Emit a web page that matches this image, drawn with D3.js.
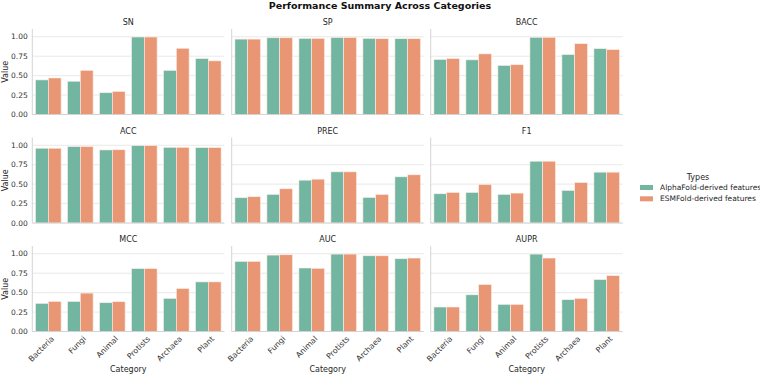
<!DOCTYPE html>
<html>
<head>
<meta charset="utf-8">
<script src="https://cdn.jsdelivr.net/npm/d3@7"></script>
<style>
  body { margin: 0; background: #fff; }
  text { font-family: "DejaVu Sans", sans-serif; }
</style>
</head>
<body>
<div id="chart"></div>
<script>
// data
var categories = ["Bacteria", "Fungi", "Animal", "Protists", "Archaea", "Plant"];
var metrics = ["SN", "SP", "BACC", "ACC", "PREC", "F1", "MCC", "AUC", "AUPR"];
var types = ["AlphaFold-derived features", "ESMFold-derived features"];
var yTicks = [0, 0.25, 0.5, 0.75, 1.0];

var alphaVals = [
  [0.445, 0.428, 0.280, 0.997, 0.568, 0.720], // SN
  [0.970, 0.987, 0.979, 0.990, 0.979, 0.975], // SP
  [0.708, 0.703, 0.631, 0.993, 0.771, 0.847], // BACC
  [0.962, 0.983, 0.940, 0.996, 0.974, 0.970], // ACC
  [0.325, 0.368, 0.551, 0.658, 0.329, 0.594], // PREC
  [0.376, 0.393, 0.368, 0.795, 0.419, 0.654], // F1
  [0.362, 0.387, 0.370, 0.809, 0.426, 0.638], // MCC
  [0.902, 0.983, 0.817, 0.996, 0.974, 0.936], // AUC
  [0.315, 0.472, 0.349, 0.996, 0.409, 0.668]  // AUPR
];
var esmVals = [
  [0.470, 0.568, 0.297, 0.997, 0.852, 0.690],
  [0.970, 0.987, 0.979, 0.990, 0.975, 0.975],
  [0.720, 0.780, 0.640, 0.993, 0.911, 0.835],
  [0.962, 0.983, 0.942, 0.996, 0.974, 0.970],
  [0.338, 0.440, 0.564, 0.658, 0.368, 0.620],
  [0.393, 0.496, 0.385, 0.795, 0.521, 0.654],
  [0.387, 0.494, 0.383, 0.809, 0.553, 0.638],
  [0.902, 0.987, 0.813, 0.996, 0.974, 0.945],
  [0.315, 0.604, 0.349, 0.945, 0.426, 0.719]
];

var colors = ["#72b6a1", "#e99675"];
var W = 760, H = 375;
var colX = [32.3, 231.7, 430.7];
var rowY = [29, 137.5, 246];
var pw = 192, ph = 85.5;

var svg = d3.select("#chart").append("svg")
  .attr("width", W).attr("height", H);

svg.append("text")
  .attr("x", 380).attr("y", 9)
  .attr("text-anchor", "middle")
  .style("font-size", "9.5px").style("font-weight", "bold").style("fill", "#111")
  .text("Performance Summary Across Categories");

var x = d3.scaleBand().domain(categories).range([0, pw]).paddingInner(0.2).paddingOuter(0.1);
var xSub = d3.scaleBand().domain([0, 1]).range([0, x.bandwidth()]);
var y = d3.scaleLinear().domain([0, 1.1]).range([ph, 0]);

for (var m = 0; m < metrics.length; m++) {
  var r = Math.floor(m / 3), c = m % 3;
  var g = svg.append("g")
    .attr("transform", "translate(" + colX[c] + "," + rowY[r] + ")");

  // grid
  g.selectAll(".grid").data(yTicks).enter().append("line")
    .attr("x1", 0).attr("x2", pw)
    .attr("y1", function (d) { return y(d); })
    .attr("y2", function (d) { return y(d); })
    .style("stroke", "#e3e3e3").style("stroke-width", 0.8);

  var rows = [];
  for (var i = 0; i < categories.length; i++) {
    rows.push({ cat: categories[i], t: 0, v: alphaVals[m][i] });
    rows.push({ cat: categories[i], t: 1, v: esmVals[m][i] });
  }
  g.selectAll(".bar").data(rows).enter().append("rect")
    .attr("x", function (d) { return x(d.cat) + xSub(d.t); })
    .attr("width", xSub.bandwidth())
    .attr("y", function (d) { return y(d.v); })
    .attr("height", function (d) { return ph - y(d.v); })
    .style("fill", function (d) { return colors[d.t]; })
    .style("stroke", "#fbeee6").style("stroke-width", 0.6);

  // spines
  g.append("line").attr("x1", 0).attr("x2", 0).attr("y1", 0).attr("y2", ph)
    .style("stroke", "#d0d0d0").style("stroke-width", 0.9);
  g.append("line").attr("x1", 0).attr("x2", pw).attr("y1", ph).attr("y2", ph)
    .style("stroke", "#d0d0d0").style("stroke-width", 0.9);

  g.append("text")
    .attr("x", pw / 2).attr("y", -4)
    .attr("text-anchor", "middle")
    .style("font-size", "8px").style("fill", "#262626")
    .text(metrics[m]);

  if (c == 0) {
    g.selectAll(".ytl").data(yTicks).enter().append("text")
      .attr("x", -4.5)
      .attr("y", function (d) { return y(d); })
      .attr("dy", "0.35em")
      .attr("text-anchor", "end")
      .style("font-size", "7.5px").style("fill", "#333")
      .text(function (d) { return d3.format(".2f")(d); });
    g.append("text")
      .attr("transform", "translate(-24.5," + (ph / 2) + ") rotate(-90)")
      .attr("text-anchor", "middle")
      .style("font-size", "8px").style("fill", "#262626")
      .text("Value");
  }

  if (r == 2) {
    g.selectAll(".xtl").data(categories).enter().append("text")
      .attr("transform", function (d) {
        return "translate(" + (x(d) + x.bandwidth() / 2 + 3.5) + "," + (ph + 5) + ") rotate(-45)";
      })
      .attr("text-anchor", "end")
      .attr("dy", "0.5em")
      .style("font-size", "7.8px").style("fill", "#333")
      .text(function (d) { return d; });
    g.append("text")
      .attr("x", pw / 2).attr("y", ph + 40)
      .attr("text-anchor", "middle")
      .style("font-size", "8px").style("fill", "#262626")
      .text("Category");
  }
}

// legend
var lg = svg.append("g").attr("transform", "translate(640,177)");
lg.append("text").attr("x", 58).attr("y", 3)
  .attr("text-anchor", "middle")
  .style("font-size", "8px").style("fill", "#262626")
  .text("Types");
types.forEach(function (t, i) {
  lg.append("rect").attr("x", 0).attr("y", 8 + i * 11.3)
    .attr("width", 13).attr("height", 5)
    .style("fill", colors[i]);
  lg.append("text").attr("x", 20).attr("y", 10.5 + i * 11.3)
    .attr("dy", "0.35em")
    .style("font-size", "7.5px").style("fill", "#262626")
    .text(t);
});
</script>
</body>
</html>
